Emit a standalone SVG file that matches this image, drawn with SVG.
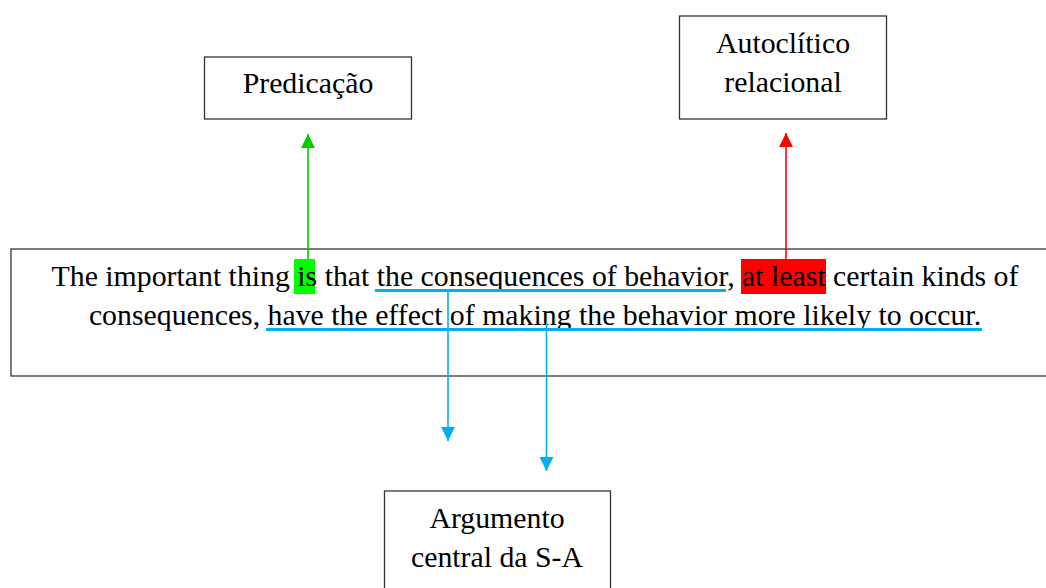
<svg xmlns="http://www.w3.org/2000/svg" width="1046" height="588" viewBox="0 0 1046 588">
  <style>
    .box { fill: #ffffff; stroke: #333333; stroke-width: 1.3; }
    .txt { font-family: 'Liberation Serif', 'DejaVu Serif', serif; font-size: 29.8px; fill: #000000; text-anchor: middle; }
    .blue { stroke: #00B0F0; stroke-width: 1.6; fill: none; }
    .uline { fill: #00B0F0; }
  </style>
  <defs>
    <marker id="headGreen" viewBox="0 0 10 10" refX="10" refY="5" markerWidth="15" markerHeight="14" markerUnits="userSpaceOnUse" orient="auto">
      <path d="M0,0 L10,5 L0,10 z" fill="#00CC00"/>
    </marker>
    <marker id="headRed" viewBox="0 0 10 10" refX="10" refY="5" markerWidth="15" markerHeight="14" markerUnits="userSpaceOnUse" orient="auto">
      <path d="M0,0 L10,5 L0,10 z" fill="#FF0000"/>
    </marker>
    <marker id="headBlue" viewBox="0 0 10 10" refX="10" refY="5" markerWidth="15" markerHeight="14" markerUnits="userSpaceOnUse" orient="auto">
      <path d="M0,0 L10,5 L0,10 z" fill="#00B0F0"/>
    </marker>
  </defs>

  <!-- quoted sentence -->
  <g id="sentence">
    <rect class="box" x="11" y="249" width="1050" height="127"/>
    <rect x="294" y="259" width="21" height="35" fill="#00FF00"/>
    <rect x="741" y="259" width="85" height="35" fill="#FF0000"/>
    <text class="txt" font-family="Liberation Serif" x="535" y="286">The important thing is that the consequences of behavior, at least certain kinds of</text>
    <text class="txt" font-family="Liberation Serif" x="535" y="325">consequences, have the effect of making the behavior more likely to occur.</text>
    <rect class="uline" x="375" y="289" width="351" height="3"/>
    <rect class="uline" x="266" y="328" width="716" height="3"/>
  </g>

  <g id="predicacao">
    <rect class="box" x="204.5" y="57" width="207" height="62"/>
    <text class="txt" font-family="Liberation Serif" x="308" y="93">Predicação</text>
  </g>

  <g id="autoclitico">
    <rect class="box" x="679.5" y="16" width="207" height="103"/>
    <text class="txt" font-family="Liberation Serif" x="783" y="53">Autoclítico</text>
    <text class="txt" font-family="Liberation Serif" x="783" y="91.5">relacional</text>
  </g>

  <g id="argumento">
    <rect class="box" x="384.5" y="491" width="226" height="110"/>
    <text class="txt" font-family="Liberation Serif" x="497" y="528">Argumento</text>
    <text class="txt" font-family="Liberation Serif" x="497" y="566.5">central da S-A</text>
  </g>

  <!-- connectors -->
  <g id="connectors">
    <line x1="308" y1="259" x2="308" y2="134" stroke="#00CC00" stroke-width="1.6" marker-end="url(#headGreen)"/>
    <line x1="786" y1="259" x2="786" y2="133" stroke="#FF0000" stroke-width="1.6" marker-end="url(#headRed)"/>
    <line class="blue" x1="448" y1="290" x2="448" y2="441" marker-end="url(#headBlue)"/>
    <line class="blue" x1="546.5" y1="323" x2="546.5" y2="471" marker-end="url(#headBlue)"/>
  </g>
</svg>
